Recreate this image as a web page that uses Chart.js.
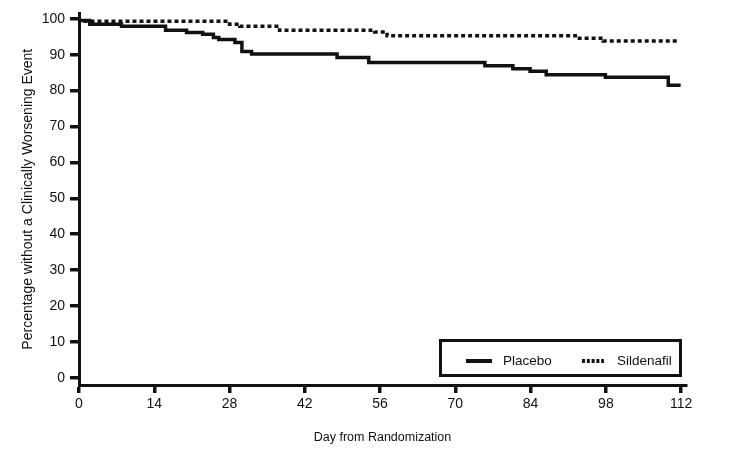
<!DOCTYPE html>
<html>
<head>
<meta charset="utf-8">
<script src="https://cdn.jsdelivr.net/npm/chart.js@4.4.1/dist/chart.umd.min.js"></script>
<style>
html,body{margin:0;padding:0;background:#fff;}
#wrap{width:749px;height:458px;position:relative;}
</style>
</head>
<body>
<div id="wrap"><canvas id="c" width="749" height="458"></canvas></div>
<script>
// ---- data ----
const placeboDays   = [0, 2.0, 7.9, 16.1, 20.0, 23.0, 25.0, 26.0, 29.0, 30.3, 32.1, 48.0, 53.9, 75.5, 80.7, 83.9, 86.9, 97.9, 109.6, 111.9];
const placeboValues = [100, 99.5, 98.5, 97.9, 96.8, 96.2, 95.7, 94.8, 94.2, 93.4, 90.9, 90.2, 89.2, 87.8, 86.9, 86.1, 85.4, 84.4, 83.7, 81.5];
const sildenafilDays   = [0, 28.0, 29.9, 37.3, 55.0, 57.3, 92.3, 97.5, 109.6, 111.4];
const sildenafilValues = [100, 99.3, 98.5, 97.9, 96.8, 96.3, 95.3, 94.6, 93.8, 93.8];
const xTicks = [0, 14, 28, 42, 56, 70, 84, 98, 112];
const yTicks = [0, 10, 20, 30, 40, 50, 60, 70, 80, 90, 100];
const seriesLabels = ['Placebo', 'Sildenafil'];
const xTitle = 'Day from Randomization';
const yTitle = 'Percentage without a Clinically Worsening Event';

const FONT = "'Liberation Sans Narrow', 'Arial Narrow', 'Liberation Sans', Arial, sans-serif";

const toPts = (xs, ys) => xs.map((x, i) => ({x: x, y: ys[i]}));

const legendPlugin = {
  id: 'boxLegend',
  afterDraw(chart) {
    const ctx = chart.ctx;
    ctx.save();
    ctx.strokeStyle = '#111';
    ctx.lineWidth = 3;
    ctx.strokeRect(440.5, 340.5, 240, 35);
    const ly = 361;
    const ds = chart.data.datasets;
    const items = [{x0: 466, x1: 492, tx: 503}, {x0: 582, x1: 604, tx: 617}];
    ds.forEach((d, i) => {
      const it = items[i];
      ctx.beginPath();
      ctx.lineWidth = 4;
      ctx.strokeStyle = '#111';
      ctx.setLineDash(i === 1 ? [3, 1.8] : []);
      ctx.moveTo(it.x0, ly);
      ctx.lineTo(it.x1, ly);
      ctx.stroke();
      ctx.setLineDash([]);
      ctx.fillStyle = '#111';
      ctx.font = '13.5px ' + FONT;
      ctx.textBaseline = 'middle';
      ctx.textAlign = 'left';
      ctx.fillText(d.label, it.tx, ly + 0.5);
    });
    ctx.restore();
  }
};

new Chart(document.getElementById('c'), {
  type: 'line',
  data: {
    datasets: [
      {
        label: seriesLabels[0],
        data: toPts(placeboDays, placeboValues),
        borderColor: '#111',
        borderWidth: 3.5,
        stepped: 'after',
        pointRadius: 0,
        fill: false
      },
      {
        label: seriesLabels[1],
        data: toPts(sildenafilDays, sildenafilValues),
        borderColor: '#111',
        borderWidth: 3.5,
        borderDash: [4, 3],
        stepped: 'after',
        pointRadius: 0,
        fill: false
      }
    ]
  },
  options: {
    responsive: false,
    animation: false,
    devicePixelRatio: 1,
    layout: {padding: {top: 8, right: 63, bottom: 0, left: 0}},
    plugins: {legend: {display: false}, tooltip: {enabled: false}},
    scales: {
      x: {
        type: 'linear',
        min: 0,
        max: 112.9,
        afterBuildTicks: s => { s.ticks = xTicks.map(v => ({value: v})); },
        afterFit: s => { s.height = 73; },
        border: {display: true, color: '#111', width: 3},
        grid: {display: true, drawOnChartArea: false, drawTicks: true, tickLength: 8, lineWidth: 3.5, color: '#111'},
        ticks: {color: '#111', padding: 3, maxRotation: 0, font: {family: FONT, size: 14}},
        title: {display: true, text: xTitle, color: '#111', font: {family: FONT, size: 12.5}, padding: {top: 0, bottom: 13}}
      },
      y: {
        type: 'linear',
        min: -2,
        max: 101.5,
        afterBuildTicks: s => { s.ticks = yTicks.map(v => ({value: v})); },
        afterFit: s => { s.width = 79; },
        border: {display: true, color: '#111', width: 3},
        grid: {display: true, drawOnChartArea: false, drawTicks: true, tickLength: 9, lineWidth: 3.5, color: '#111'},
        ticks: {color: '#111', padding: 5, font: {family: FONT, size: 14}},
        title: {display: true, text: yTitle, color: '#111', font: {family: FONT, size: 14}, padding: {top: 20, bottom: 0}}
      }
    }
  },
  plugins: [legendPlugin]
});
</script>
</body>
</html>
